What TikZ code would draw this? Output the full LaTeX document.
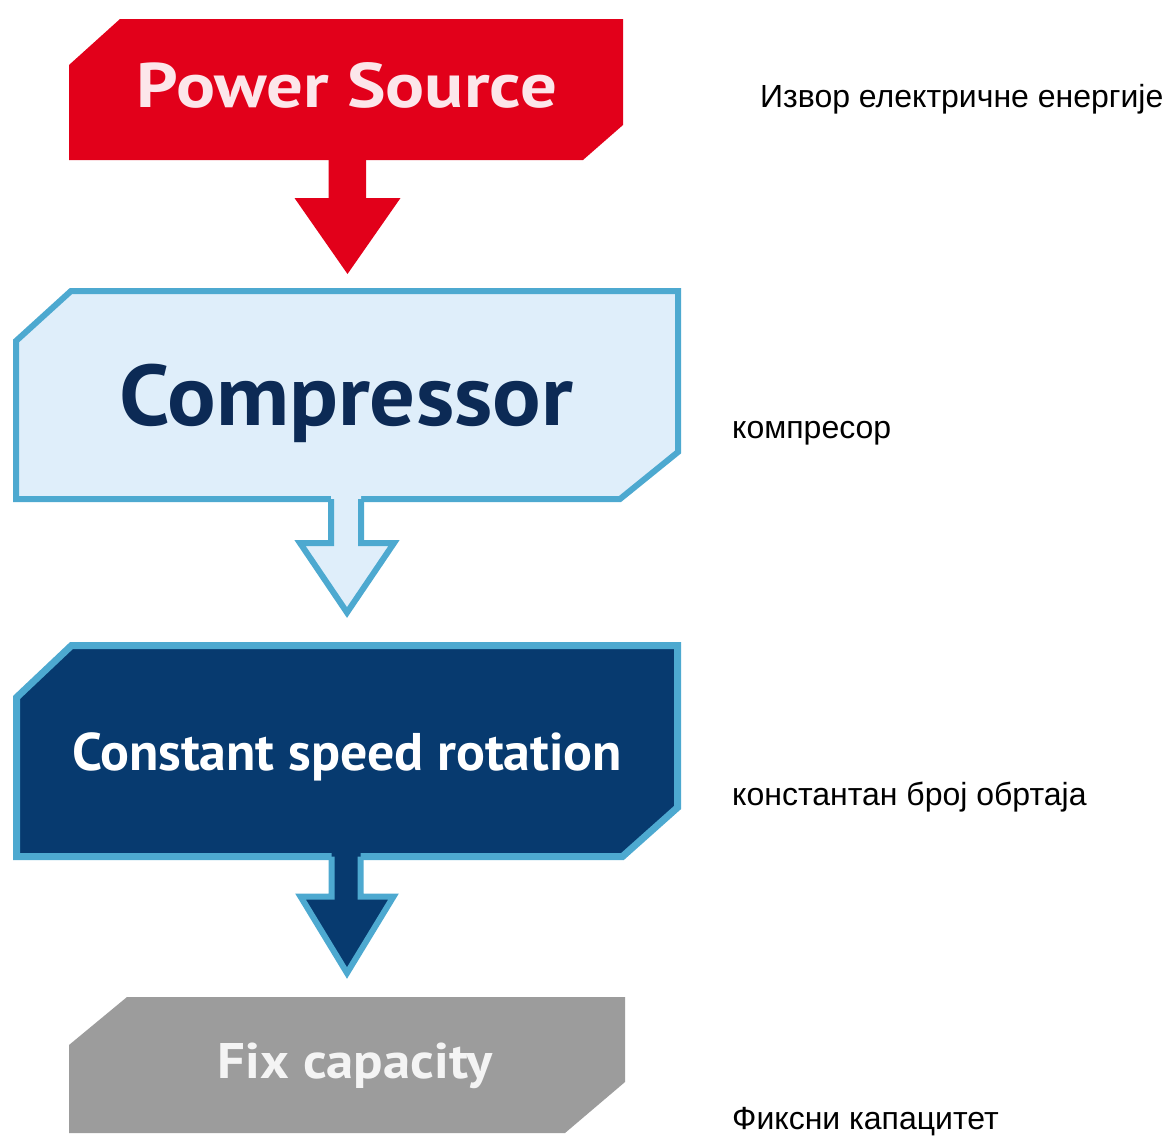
\documentclass[tikz,border=0pt]{standalone}
\usepackage{fontspec}
\usepackage{graphicx}
\setmainfont{Liberation Sans}
\newfontfamily\boxfont{PT Sans}
\usetikzlibrary{calc}
\definecolor{psred}{HTML}{E2001A}
\definecolor{pstxt}{HTML}{FCE6EA}
\definecolor{lightfill}{HTML}{DFEEFA}
\definecolor{edgeblue}{HTML}{4DA9D0}
\definecolor{navy}{HTML}{073A6F}
\definecolor{comptxt}{HTML}{0C2A55}
\definecolor{greybox}{HTML}{9C9C9C}
\definecolor{greytxt}{HTML}{F4F4F4}
\begin{document}
\begin{tikzpicture}[x=1pt,y=-1pt,
  area/.style={inner sep=0pt,outer sep=0pt},
  boxtext/.style={anchor=base,inner sep=0pt,font=\boxfont\bfseries},
  label/.style={anchor=base west,inner sep=0pt,font=\fontsize{32}{38}\selectfont,text=black}]
\useasboundingbox[fill=white] (0,0) rectangle (1166,1138);

% invisible box areas
\node[area,minimum width=554pt,minimum height=141pt] (ps) at (346,89.5) {};
\node[area,minimum width=662pt,minimum height=208pt] (comp) at (347,395) {};
\node[area,minimum width=661pt,minimum height=211pt] (csr) at (347,751) {};
\node[area,minimum width=556pt,minimum height=136pt] (fix) at (347,1065) {};

% Power Source box
\fill[psred] ($(ps.north west)+(51,0)$) -- (ps.north east) -- ($(ps.south east)+(0,-35)$)
  -- ($(ps.south east)+(-40,0)$) -- (ps.south west) -- ($(ps.north west)+(0,46)$) -- cycle;
% red arrow
\fill[psred] ($(ps.south)+(-17.5,-3)$) -- ($(ps.south)+(-17.5,38)$) -- ($(ps.south)+(-51.5,38)$)
  -- ($(comp.north)+(0.5,-17)$) -- ($(ps.south)+(54.5,38)$) -- ($(ps.south)+(20,38)$)
  -- ($(ps.south)+(20,-3)$) -- cycle;

% Compressor box
\filldraw[fill=lightfill,draw=edgeblue,line width=6pt,line join=miter]
  ($(comp.north west)+(55,0)$) -- (comp.north east) -- ($(comp.south east)+(0,-47)$)
  -- ($(comp.south east)+(-58,0)$) -- (comp.south west) -- ($(comp.north west)+(0,50)$) -- cycle;
% outlined arrow
\fill[lightfill] ($(comp.south)+(-16,-5)$) -- ($(comp.south)+(-16,44)$) -- ($(comp.south)+(-47,44)$)
  -- ($(csr.north)+(0,-33)$) -- ($(comp.south)+(47,44)$) -- ($(comp.south)+(14,44)$)
  -- ($(comp.south)+(14,-5)$) -- cycle;
\draw[edgeblue,line width=6pt,line join=miter] ($(comp.south)+(-16,0)$) -- ($(comp.south)+(-16,44)$) -- ($(comp.south)+(-47,44)$)
  -- ($(csr.north)+(0,-33)$) -- ($(comp.south)+(47,44)$) -- ($(comp.south)+(14,44)$)
  -- ($(comp.south)+(14,0)$);

% Constant speed box
\filldraw[fill=navy,draw=edgeblue,line width=7pt,line join=miter]
  ($(csr.north west)+(55,0)$) -- (csr.north east) -- ($(csr.south east)+(0,-49)$)
  -- ($(csr.south east)+(-55,0)$) -- (csr.south west) -- ($(csr.north west)+(0,52)$) -- cycle;
% navy arrow
\fill[navy] ($(csr.south)+(-15.5,-5)$) -- ($(csr.south)+(-15.5,40)$) -- ($(csr.south)+(-46.5,40)$)
  -- ($(fix.north)+(0,-24)$) -- ($(csr.south)+(46.5,40)$) -- ($(csr.south)+(13.5,40)$)
  -- ($(csr.south)+(13.5,-5)$) -- cycle;
\draw[edgeblue,line width=6pt,line join=miter] ($(csr.south)+(-15.5,0)$) -- ($(csr.south)+(-15.5,40)$) -- ($(csr.south)+(-46.5,40)$)
  -- ($(fix.north)+(0,-24)$) -- ($(csr.south)+(46.5,40)$) -- ($(csr.south)+(13.5,40)$)
  -- ($(csr.south)+(13.5,0)$);

% Fix capacity box
\fill[greybox] ($(fix.north west)+(58,0)$) -- (fix.north east) -- ($(fix.south east)+(0,-51)$)
  -- ($(fix.south east)+(-60,0)$) -- (fix.south west) -- ($(fix.north west)+(0,48)$) -- cycle;

% box texts
\node[boxtext,text=pstxt,font=\boxfont\bfseries\fontsize{63}{70}\selectfont] (pst) at (347,107) {\resizebox{420pt}{\height}{Power Source}};
\node[boxtext,text=comptxt,font=\boxfont\bfseries\fontsize{86}{95}\selectfont] (compt) at (346.5,425) {\resizebox{453pt}{\height}{Compressor}};
\node[boxtext,text=white,font=\boxfont\bfseries\fontsize{53}{60}\selectfont] (csrt) at (347,770) {\resizebox{550pt}{\height}{Constant speed rotation}};
\node[boxtext,text=greytxt,font=\boxfont\bfseries\fontsize{50}{56}\selectfont] (fixt) at (355.5,1078) {\resizebox{275pt}{\height}{Fix capacity}};

% right labels
\node[label] (l1) at (760,107) {Извор електричне енергије};
\node[label] (l2) at (732,438) {компресор};
\node[label] (l3) at (732,805) {константан број обртаја};
\node[label] (l4) at (732,1129) {Фиксни капацитет};
\end{tikzpicture}
\end{document}
